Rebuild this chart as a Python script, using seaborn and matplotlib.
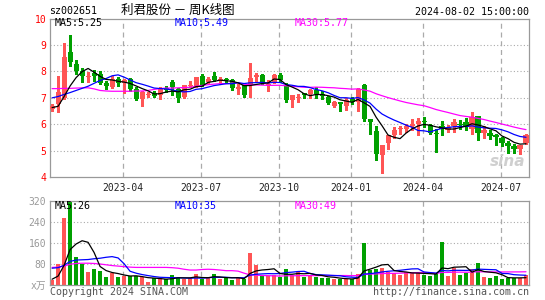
import numpy as np
import pandas as pd
import matplotlib
matplotlib.use("Agg")
import matplotlib.pyplot as plt
import seaborn as sns

# ---------------- data (weekly K-line, sz002651) ----------------
opens = [6.58, 6.77, 6.98, 8.75, 8.30, 8.03, 7.80, 7.95, 7.92, 7.57,
         7.43, 7.72, 7.55, 7.72, 7.32, 6.95, 7.12, 7.18, 7.09, 7.36,
         7.59, 7.34, 7.03, 7.45, 7.43, 7.81, 7.60, 7.81, 7.68, 7.69,
         7.68, 7.34, 7.47, 7.47, 7.79, 7.88, 7.50, 7.57, 7.88, 7.46,
         6.90, 7.00, 7.17, 7.13, 7.30, 7.13, 7.05, 6.71, 6.84, 6.71,
         6.96, 6.84, 7.47, 6.18, 5.73, 4.84, 5.29, 5.61, 5.81, 5.83,
         5.92, 5.99, 6.09, 5.98, 5.66, 5.92, 5.77, 5.92, 6.00, 6.08,
         5.83, 6.30, 5.67, 5.66, 5.61, 5.49, 5.30, 5.17, 5.07, 5.29]
closes = [6.68, 7.22, 8.54, 8.37, 8.02, 7.82, 7.82, 7.83, 7.58, 7.44,
          7.72, 7.57, 7.68, 7.32, 6.97, 7.22, 7.14, 7.08, 7.38, 7.28,
          7.40, 7.00, 7.47, 7.48, 7.78, 7.47, 7.73, 7.66, 7.72, 7.66,
          7.37, 7.43, 7.12, 7.76, 7.85, 7.56, 7.53, 7.87, 7.66, 6.90,
          7.09, 7.02, 7.10, 7.30, 7.13, 7.08, 6.80, 6.84, 6.78, 6.90,
          6.84, 7.34, 6.20, 6.10, 4.88, 5.20, 5.58, 5.77, 5.84, 5.92,
          6.02, 6.12, 6.07, 5.68, 5.62, 5.82, 5.89, 6.08, 5.96, 5.89,
          6.27, 5.66, 5.77, 5.54, 5.51, 5.29, 5.16, 5.07, 5.20, 5.58]
highs = [6.75, 7.82, 9.07, 9.40, 8.44, 8.15, 7.97, 8.06, 8.00, 7.62,
         7.82, 7.78, 7.72, 7.75, 7.40, 7.25, 7.22, 7.25, 7.42, 7.45,
         7.66, 7.38, 7.50, 7.62, 7.80, 7.92, 7.78, 7.97, 7.78, 7.76,
         7.70, 7.53, 7.50, 8.31, 7.93, 7.92, 7.68, 7.90, 7.95, 7.56,
         7.12, 7.13, 7.20, 7.34, 7.40, 7.25, 7.08, 6.88, 6.86, 6.99,
         7.03, 7.36, 7.53, 6.20, 5.92, 5.22, 5.60, 5.89, 5.92, 6.02,
         6.18, 6.24, 6.27, 6.00, 5.83, 6.14, 5.98, 6.21, 6.17, 6.23,
         6.46, 6.33, 5.92, 5.77, 5.62, 5.52, 5.36, 5.24, 5.22, 5.64]
lows = [6.50, 6.46, 6.95, 8.20, 7.90, 7.60, 7.60, 7.64, 7.52, 7.33,
        7.36, 7.45, 7.20, 7.27, 6.90, 6.68, 7.05, 7.03, 6.94, 7.22,
        7.10, 6.84, 7.00, 7.40, 7.40, 7.45, 7.55, 7.62, 7.53, 7.55,
        7.28, 7.15, 7.03, 7.05, 7.60, 7.52, 7.27, 7.55, 7.60, 6.84,
        6.65, 6.84, 6.98, 7.00, 7.00, 6.96, 6.75, 6.64, 6.52, 6.55,
        6.77, 6.50, 6.14, 5.64, 4.66, 4.15, 5.07, 5.49, 5.64, 5.70,
        5.79, 5.58, 5.89, 5.64, 4.95, 5.58, 5.70, 5.70, 5.83, 5.77,
        5.64, 5.41, 5.49, 5.45, 5.20, 5.16, 4.91, 4.91, 4.88, 5.24]
volumes = [19, 80, 255, 320, 107, 81, 50, 61, 53, 30,
           44, 30, 34, 33, 34, 29, 10, 25, 25, 22,
           37, 28, 24, 25, 41, 24, 25, 42, 22, 28,
           20, 27, 23, 122, 76, 38, 36, 37, 32, 61,
           38, 51, 32, 39, 32, 28, 25, 24, 22, 22,
           22, 42, 159, 57, 60, 65, 50, 44, 39, 50,
           47, 47, 38, 34, 41, 164, 34, 66, 38, 46,
           60, 84, 29, 25, 34, 24, 28, 25, 25, 37]

# moving-average values at the start of the window (history before the chart)
ma5_head = [6.63, 6.68, 7.05, 7.45]
ma10_head = [7.00, 7.05, 7.13, 7.20, 7.28, 7.36, 7.44, 7.55, 7.66]
ma30_head = [7.35, 7.35, 7.36, 7.36, 7.37, 7.38, 7.38, 7.34, 7.28, 7.26,
             7.25, 7.25, 7.25, 7.25, 7.26, 7.26, 7.28, 7.32, 7.35, 7.37,
             7.37, 7.38, 7.39, 7.40, 7.44, 7.47, 7.50, 7.52, 7.54]
vma5_head = [22, 34, 75, 135]
vma10_head = [64, 66, 75, 90, 95, 96, 97, 100, 102]
vma30_head = [67, 68, 72, 79, 82, 83, 83, 82, 80, 77,
              74, 72, 70, 68, 67, 67, 67, 67, 67, 67,
              66, 64, 60, 57, 57, 59, 60, 59, 57]

month_ticks = [12, 25, 38, 50, 62, 75]
month_labels = ["2023-04", "2023-07", "2023-10", "2024-01", "2024-04", "2024-07"]
price_ticks = [4, 5, 6, 7, 8, 9, 10]
vol_ticks = [0, 80, 160, 240, 320]
vol_tick_labels = ["x万", "80", "160", "240", "320"]

RED = "#ff5555"
GREEN = "#00a000"
GRID = "#aaaaaa"
FRAME = "#999999"
MONO = "DejaVu Sans Mono"
CJK = ["Noto Sans CJK SC", "DejaVu Sans"]

sns.set_style("white")
plt.rcParams["font.family"] = CJK


def moving(values, n, head):
    s = pd.Series(values, dtype=float).rolling(n).mean()
    s.iloc[:len(head)] = head
    return s.values


o = np.array(opens); c = np.array(closes)
h = np.array(highs); l = np.array(lows)
idx = np.arange(len(c))
up = c >= o
colors = np.where(up, RED, GREEN)

df = pd.DataFrame({
    "idx": idx,
    "ma5": moving(closes, 5, ma5_head),
    "ma10": moving(closes, 10, ma10_head),
    "ma30": moving(closes, 30, ma30_head),
    "vol": volumes,
    "vma5": moving(volumes, 5, vma5_head),
    "vma10": moving(volumes, 10, vma10_head),
    "vma30": moving(volumes, 30, vma30_head),
    "dir": np.where(up, "up", "down"),
})

W, H = 545, 300
fig = plt.figure(figsize=(W / 100, H / 100), dpi=100)
fig.patch.set_facecolor("white")

def fx(x):
    return x / W

def fy(y):
    return 1 - y / H

left, right = 50.3, 529.3
axp = fig.add_axes([fx(left), fy(177), (right - left) / W, (177 - 18.7) / H])
axv = fig.add_axes([fx(left), fy(285), (right - left) / W, (285 - 201) / H])

XLIM = (-0.3, 79.55)

# ---------------- price panel ----------------
for yv in [5, 6, 7, 8, 9]:
    axp.axhline(yv, color=GRID, lw=0.8, ls=(0, (1, 2)), zorder=0)
for t in month_ticks:
    axp.axvline(t - 0.25, color=GRID, lw=0.9, ls=(0, (4, 3)), zorder=0)

axp.vlines(idx, l, h, colors=colors, linewidth=0.75, zorder=2,
           antialiased=False)
body_bottom = np.minimum(o, c)
body_h = np.maximum(np.abs(c - o), 0.04)
axp.bar(idx, body_h, bottom=body_bottom, width=0.84, color=colors,
        linewidth=0, zorder=3, antialiased=False)

sns.lineplot(data=df, x="idx", y="ma30", ax=axp, color="#ff00ff",
             linewidth=0.9, estimator=None, zorder=4)
sns.lineplot(data=df, x="idx", y="ma10", ax=axp, color="#0000ff",
             linewidth=0.9, estimator=None, zorder=5)
sns.lineplot(data=df, x="idx", y="ma5", ax=axp, color="black",
             linewidth=0.9, estimator=None, zorder=6)

axp.set_xlim(*XLIM)
axp.set_ylim(4, 10)
axp.set_yticks(price_ticks)
axp.set_yticklabels([str(v) for v in price_ticks], color="red",
                    fontsize=7, family=MONO)
axp.set_xticks([t - 0.25 for t in month_ticks])
axp.set_xticklabels(month_labels, fontsize=7, family=MONO, color="#222222")
axp.tick_params(axis="both", length=0, pad=3)
axp.tick_params(axis="x", pad=4)
axp.set_xlabel("")
axp.set_ylabel("")
for sp in axp.spines.values():
    sp.set_color(FRAME)
    sp.set_linewidth(0.9)

axp.text(0.955, 0.10, "sina", transform=axp.transAxes, ha="center",
         va="center", fontsize=11, fontstyle="italic", fontweight="bold",
         color="#cfcfcf", family="DejaVu Sans", zorder=1)

# ---------------- volume panel ----------------
for yv in [80, 160, 240]:
    axv.axhline(yv, color=GRID, lw=0.8, ls=(0, (1, 2)), zorder=0)
for t in month_ticks:
    axv.axvline(t - 0.25, color=GRID, lw=0.9, ls=(0, (4, 3)), zorder=0)

sns.barplot(data=df, x="idx", y="vol", hue="dir",
            palette={"up": RED, "down": GREEN}, native_scale=True,
            width=0.78, dodge=False, legend=False, errorbar=None,
            saturation=1, linewidth=0, antialiased=False, ax=axv, zorder=2)
sns.lineplot(data=df, x="idx", y="vma30", ax=axv, color="#ff00ff",
             linewidth=0.9, estimator=None, zorder=4)
sns.lineplot(data=df, x="idx", y="vma10", ax=axv, color="#0000ff",
             linewidth=0.9, estimator=None, zorder=5)
sns.lineplot(data=df, x="idx", y="vma5", ax=axv, color="black",
             linewidth=0.9, estimator=None, zorder=6)

axv.set_xlim(*XLIM)
axv.set_ylim(0, 320)
axv.set_yticks(vol_ticks)
axv.set_yticklabels(vol_tick_labels, color="#999999", fontsize=7)
for lab in axv.get_yticklabels():
    lab.set_family([MONO, "Noto Sans CJK SC"])
axv.set_xticks([])
axv.tick_params(axis="both", length=0, pad=3)
axv.set_xlabel("")
axv.set_ylabel("")
for sp in axv.spines.values():
    sp.set_color(FRAME)
    sp.set_linewidth(0.9)

# ---------------- texts ----------------
fig.text(fx(49), fy(11.5), "sz002651", fontsize=7.2, family=MONO,
         va="center", ha="left", color="black")
fig.text(fx(177.6), fy(10.5), "利君股份 － 周K线图", fontsize=9,
         family=CJK, va="center", ha="center", color="black")
fig.text(fx(529), fy(12), "2024-08-02 15:00:00", fontsize=7.2,
         family=MONO, va="center", ha="right", color="black")

fig.text(fx(54.5), fy(23.5), "MA5:5.25", fontsize=7.2, family=MONO,
         va="center", ha="left", color="black")
fig.text(fx(174.5), fy(23.5), "MA10:5.49", fontsize=7.2, family=MONO,
         va="center", ha="left", color="#0000ff")
fig.text(fx(294.5), fy(23.5), "MA30:5.77", fontsize=7.2, family=MONO,
         va="center", ha="left", color="#ff00ff")

fig.text(fx(54.5), fy(206), "MA5:26", fontsize=7.2, family=MONO,
         va="center", ha="left", color="black")
fig.text(fx(174.5), fy(206), "MA10:35", fontsize=7.2, family=MONO,
         va="center", ha="left", color="#0000ff")
fig.text(fx(294.5), fy(206), "MA30:49", fontsize=7.2, family=MONO,
         va="center", ha="left", color="#ff00ff")

fig.text(fx(50), fy(292), "Copyright 2024 SINA.COM", fontsize=7.2,
         family=MONO, va="center", ha="left", color="#555555")
fig.text(fx(529), fy(292), "http://finance.sina.com.cn", fontsize=7.2,
         family=MONO, va="center", ha="right", color="#555555")

fig.savefig("out.png", dpi=100, facecolor="white")
